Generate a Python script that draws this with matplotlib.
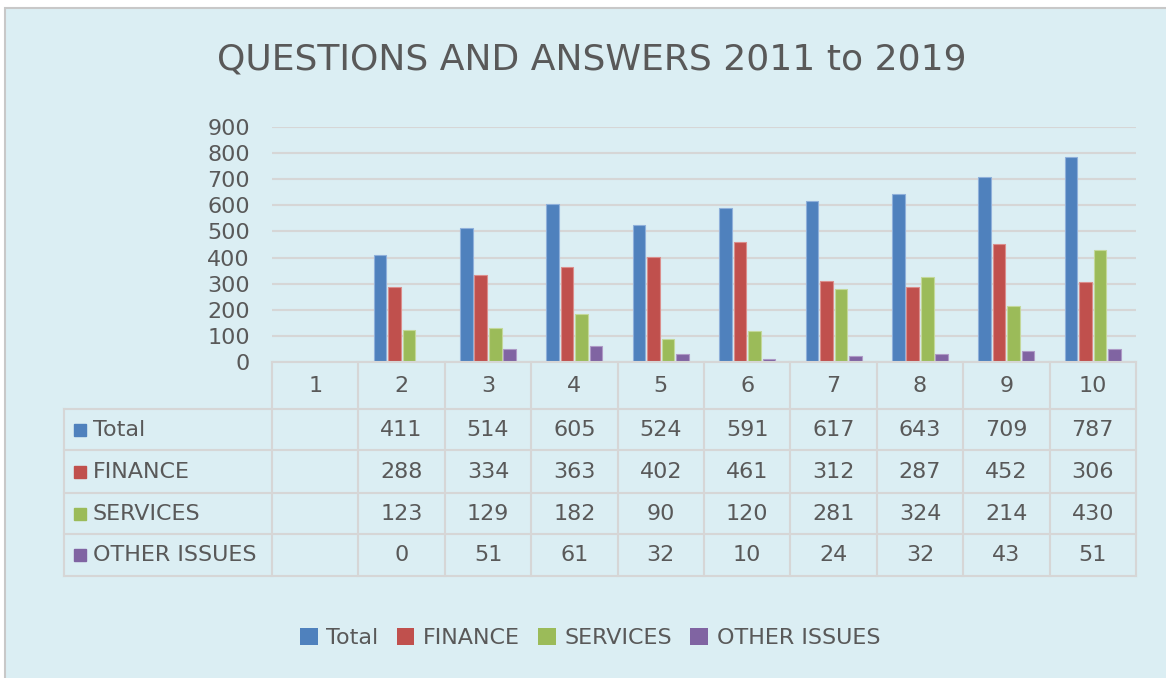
import matplotlib
matplotlib.use("Agg")
import matplotlib.pyplot as plt
import numpy as np
from matplotlib.patches import Rectangle, Patch

categories = ["1", "2", "3", "4", "5", "6", "7", "8", "9", "10"]
series_names = ["Total", "FINANCE", "SERVICES", "OTHER ISSUES"]
total = [np.nan, 411, 514, 605, 524, 591, 617, 643, 709, 787]
finance = [np.nan, 288, 334, 363, 402, 461, 312, 287, 452, 306]
services = [np.nan, 123, 129, 182, 90, 120, 281, 324, 214, 430]
other_issues = [np.nan, 0, 51, 61, 32, 10, 24, 32, 43, 51]
series = [total, finance, services, other_issues]
colors = ["#4F81BD", "#C0504D", "#9BBB59", "#8064A2"]
edge_colors = ["#8FB0DA", "#DB8E8C", "#C3D89A", "#AE9AC6"]

W, H = 1166, 678
bg = "#DBEEF3"
grid_c = "#D6D6D6"
txt_c = "#595959"
FS = 16


def fx(px):
    return px / W


def fy(py):
    return 1 - py / H


fig = plt.figure(figsize=(W / 100, H / 100), dpi=100)
fig.patch.set_facecolor("white")
fig.add_artist(Rectangle((fx(5), -0.1), 1.2, fy(8) + 0.1, transform=fig.transFigure,
                         facecolor=bg, edgecolor="#C8C8C8", lw=1.5, zorder=-10))

fig.text(fx(592), fy(60), "QUESTIONS AND ANSWERS 2011 to 2019", ha="center", va="center",
         fontsize=26, color=txt_c)

# bar chart
ax = fig.add_axes([fx(272), fy(362), (1136 - 272) / W, (362 - 127) / H])
ax.set_facecolor("none")
x = np.arange(len(categories))
step, bw = 0.168, 0.146
for i, vals in enumerate(series):
    ax.bar(x + (i - 1.5) * step, vals, width=bw, color=colors[i],
           edgecolor=edge_colors[i], linewidth=0.8, zorder=3)
ax.set_xlim(-0.5, len(categories) - 0.5)
ax.set_ylim(0, 900)
ax.set_yticks(np.arange(0, 1000, 100))
ax.set_xticks([])
ax.tick_params(axis="y", length=0, pad=16, labelsize=FS, labelcolor=txt_c)
ax.yaxis.grid(True, color=grid_c, lw=1.5, zorder=0)
for s in ax.spines.values():
    s.set_visible(False)

# data table underneath
tab = fig.add_axes([fx(272), fy(576), (1136 - 272) / W, (576 - 362) / H])
tab.set_facecolor("none")
tab.set_xlim(-0.5, len(categories) - 0.5)
tab.set_ylim(214, 0)
tab.axis("off")
unit = 86.4
left_x = -0.5 + (64 - 272) / unit
row_edges = [0, 47, 88, 131, 172, 214]
lkw = dict(color=grid_c, lw=1.5, clip_on=False)

tab.plot([-0.5, len(categories) - 0.5], [0, 0], **lkw)
for yy in row_edges[1:]:
    tab.plot([left_x, len(categories) - 0.5], [yy, yy], **lkw)
tab.plot([left_x, left_x], [row_edges[1], row_edges[-1]], **lkw)
for b in np.arange(-0.5, len(categories), 1.0):
    tab.plot([b, b], [0, row_edges[-1]], **lkw)

for j, c in enumerate(categories):
    tab.text(j, (row_edges[0] + row_edges[1]) / 2, c, ha="center", va="center",
             fontsize=FS, color=txt_c)

for i, (name, vals) in enumerate(zip(series_names, series)):
    ymid = (row_edges[i + 1] + row_edges[i + 2]) / 2
    tab.plot([-0.5 + (80 - 272) / unit], [ymid], marker="s", ms=8.5, color=colors[i],
             clip_on=False, ls="none")
    tab.text(-0.5 + (93 - 272) / unit, ymid, name, ha="left", va="center",
             fontsize=FS, color=txt_c)
    for j, v in enumerate(vals):
        if not np.isnan(v):
            tab.text(j, ymid, f"{int(v)}", ha="center", va="center", fontsize=FS, color=txt_c)

handles = [Patch(facecolor=c, edgecolor="none") for c in colors]
fig.legend(handles, series_names, loc="center", bbox_to_anchor=(fx(590), fy(638)),
           ncol=4, frameon=False, fontsize=FS, handlelength=0.8, handleheight=0.8,
           handletextpad=0.4, columnspacing=0.8, labelcolor=txt_c)

fig.savefig("out.png", dpi=100, facecolor=fig.get_facecolor())
